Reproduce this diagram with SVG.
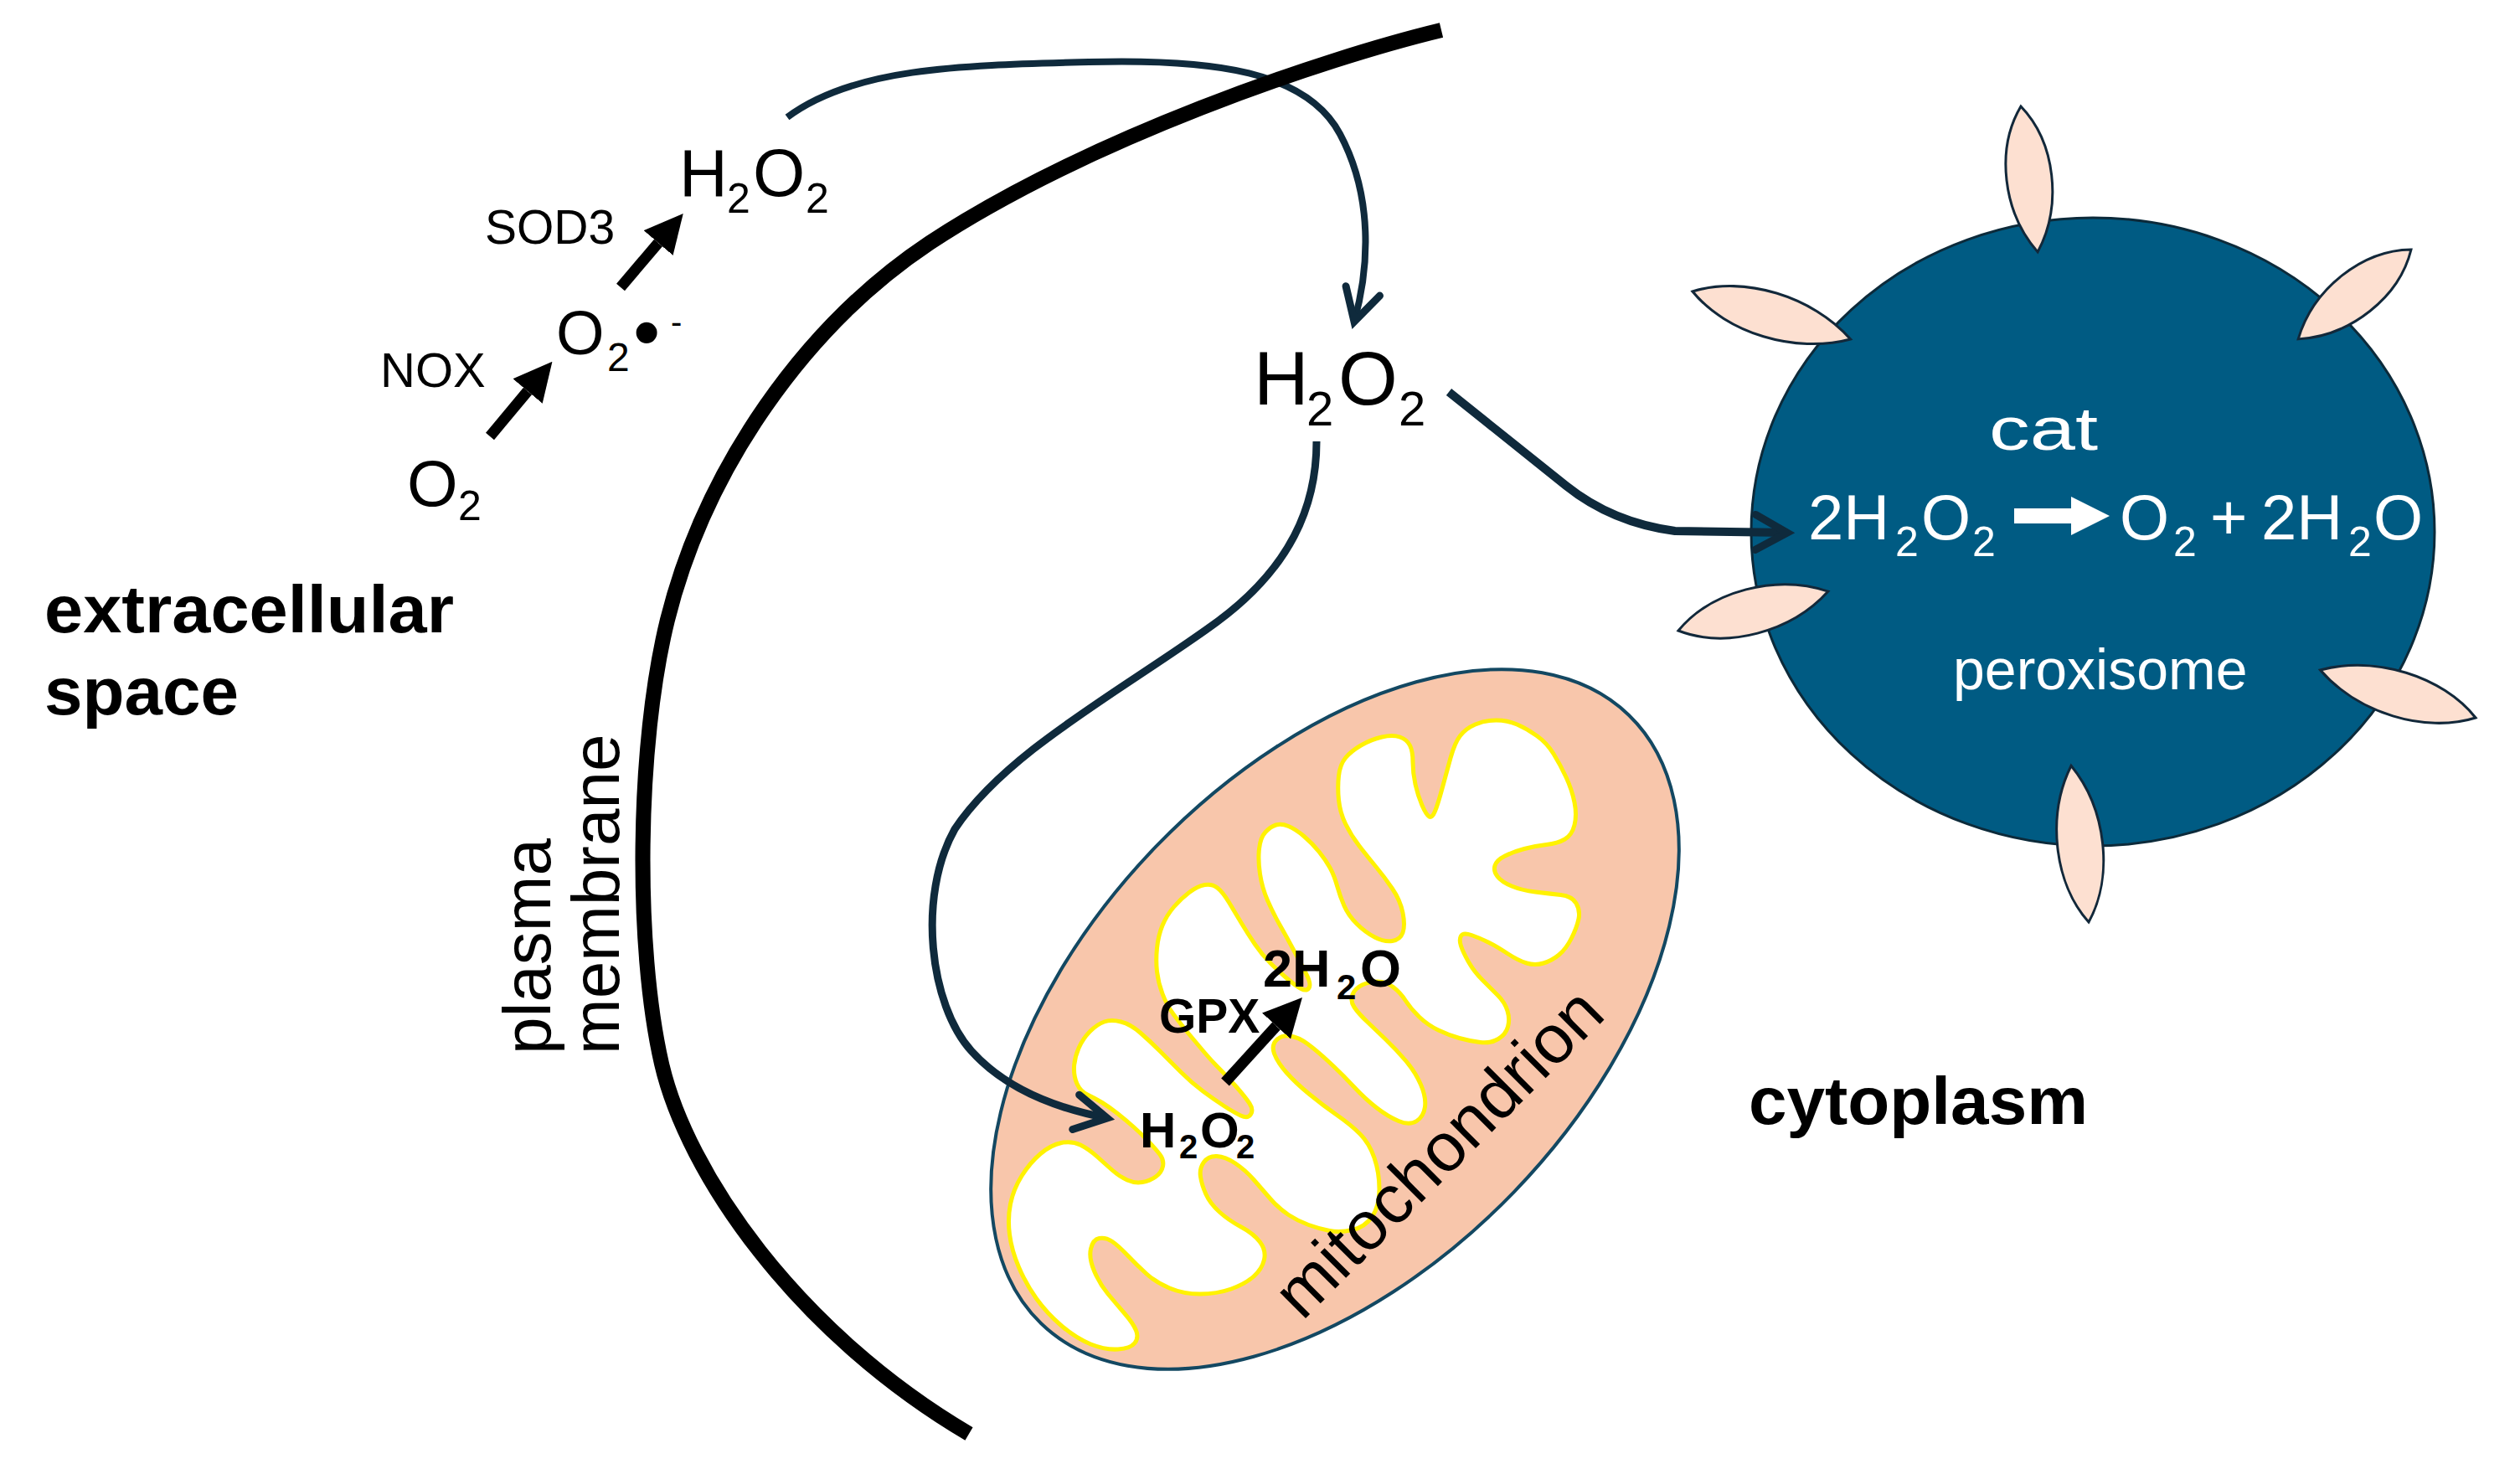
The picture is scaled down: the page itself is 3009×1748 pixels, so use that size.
<svg xmlns="http://www.w3.org/2000/svg" width="3009" height="1748" viewBox="0 0 3009 1748">
<defs>
<style>
.t{font-family:"Liberation Sans",Arial,sans-serif;fill:#000}
.b{font-family:"Liberation Sans",Arial,sans-serif;font-weight:bold;fill:#000}
.w{font-family:"Liberation Sans",Arial,sans-serif;fill:#fff}
.conn{fill:none;stroke:#0f2a3c;stroke-linecap:butt;stroke-linejoin:round}
.rx{stroke:#000;stroke-width:13;fill:none}
.petal{fill:#fde0d1;stroke:#12283a;stroke-width:3}
</style>
<marker id="open" viewBox="0 0 50 50" refX="44" refY="25" markerWidth="50" markerHeight="50" markerUnits="userSpaceOnUse" orient="auto" overflow="visible">
<path d="M6,4 L44,25 L6,46" fill="none" stroke="#0f2a3c" stroke-width="9" stroke-linejoin="miter" stroke-linecap="round"/>
</marker>
<marker id="solid" viewBox="0 0 10 10" refX="0" refY="5" markerWidth="46" markerHeight="46" markerUnits="userSpaceOnUse" orient="auto">
<path d="M0,0 L10,5 L0,10 Z" fill="#000"/>
</marker>
<marker id="solidW" viewBox="0 0 10 10" refX="0" refY="5" markerWidth="46" markerHeight="47" markerUnits="userSpaceOnUse" orient="auto">
<path d="M0,0 L10,5 L0,10 Z" fill="#fff"/>
</marker>
<path id="petal" d="M0,0 C50,-36 130,-36 185,0 C130,36 50,36 0,0 Z"/>
</defs>
<rect width="3009" height="1748" fill="#fff"/>

<g id="mitochondrion">
<ellipse cx="1594" cy="1217" rx="505" ry="297" transform="rotate(-46 1594 1217)" fill="#f8c6ab" stroke="#134862" stroke-width="4"/>
<path fill="#fff" stroke="#fff200" stroke-width="5" stroke-linejoin="round" d="M1312.5,1478.5
Q1305,1480 1302.5,1491 Q1300,1502 1306.5,1517.5 Q1313,1533 1323,1545 Q1333,1557 1343,1568.5 Q1353,1580 1356.5,1588.5 Q1360,1597 1355,1603.5 Q1350,1610 1335,1611 Q1320,1612 1302.5,1605 Q1285,1598 1267.5,1583 Q1250,1568 1237.5,1550.5 Q1225,1533 1216.5,1513 Q1208,1493 1205.5,1474 Q1203,1455 1206.5,1437.5 Q1210,1420 1220,1404 Q1230,1388 1242.5,1377.5 Q1255,1367 1267.5,1364.5 Q1280,1362 1290,1367 Q1300,1372 1310,1381 Q1320,1390 1328.5,1397.5 Q1337,1405 1346,1409 Q1355,1413 1364,1411.5 Q1373,1410 1380,1405 Q1387,1400 1388.5,1392.5 Q1390,1385 1385,1378.5 Q1380,1372 1371,1362.5 Q1362,1353 1353.5,1345.5 Q1345,1338 1335,1330 Q1325,1322 1316,1316.5 Q1307,1311 1298.5,1307 Q1290,1303 1286,1294 Q1282,1285 1282.5,1274 Q1283,1263 1288,1251.5 Q1293,1240 1301.5,1231.5 Q1310,1223 1318.5,1220 Q1327,1217 1338.5,1220 Q1350,1223 1361.5,1233 Q1373,1243 1385,1255 Q1397,1267 1410,1280 Q1423,1293 1436.5,1303 Q1450,1313 1461.5,1320.5 Q1473,1328 1481.5,1332 Q1490,1336 1493.5,1330.5 Q1497,1325 1492,1317.5 Q1487,1310 1477,1298.5 Q1467,1287 1457,1277 Q1447,1267 1438.5,1257 Q1430,1247 1420,1235 Q1410,1223 1401.5,1211.5 Q1393,1200 1388,1186.5 Q1383,1173 1381.5,1160 Q1380,1147 1381.5,1132 Q1383,1117 1388,1105 Q1393,1093 1401.5,1083 Q1410,1073 1420,1065.5 Q1430,1058 1438.5,1056.5 Q1447,1055 1453.5,1060 Q1460,1065 1467.5,1077.5 Q1475,1090 1482.5,1102.5 Q1490,1115 1498.5,1127.5 Q1507,1140 1517,1150 Q1527,1160 1537,1168.5 Q1547,1177 1553.5,1180.5 Q1560,1184 1563,1179.5 Q1566,1175 1559.5,1162.5 Q1553,1150 1545,1135 Q1537,1120 1528.5,1105 Q1520,1090 1513.5,1075 Q1507,1060 1504.5,1043.5 Q1502,1027 1503.5,1013.5 Q1505,1000 1511,993.5 Q1517,987 1523.5,985 Q1530,983 1538.5,986.5 Q1547,990 1557,998.5 Q1567,1007 1575,1017 Q1583,1027 1588,1036 Q1593,1045 1596.5,1057.5 Q1600,1070 1605,1081.5 Q1610,1093 1620,1103 Q1630,1113 1641.5,1119 Q1653,1125 1662.5,1123.5 Q1672,1122 1675,1113.5 Q1678,1105 1675,1090 Q1672,1075 1662.5,1061 Q1653,1047 1643,1035 Q1633,1023 1623,1010 Q1613,997 1606.5,983.5 Q1600,970 1598.5,955 Q1597,940 1598.5,926.5 Q1600,913 1606.5,905 Q1613,897 1625,890 Q1637,883 1650,880 Q1663,877 1671.5,880 Q1680,883 1683.5,890 Q1687,897 1687,910 Q1687,923 1690,936.5 Q1693,950 1698,961.5 Q1703,973 1706.5,975 Q1710,977 1713.5,968.5 Q1717,960 1722,941.5 Q1727,923 1732,905 Q1737,887 1743.5,878.5 Q1750,870 1761.5,865 Q1773,860 1786.5,860 Q1800,860 1811.5,865 Q1823,870 1835,878.5 Q1847,887 1855,900 Q1863,913 1870,928 Q1877,943 1880,958 Q1883,973 1880,985 Q1877,997 1868.5,1002 Q1860,1007 1846.5,1008.5 Q1833,1010 1820,1013.5 Q1807,1017 1797,1022 Q1787,1027 1785,1033.5 Q1783,1040 1788,1046.5 Q1793,1053 1805,1058 Q1817,1063 1833.5,1065 Q1850,1067 1863.5,1068.5 Q1877,1070 1882,1078.5 Q1887,1087 1885,1097 Q1883,1107 1876.5,1120 Q1870,1133 1861.5,1140 Q1853,1147 1843,1150 Q1833,1153 1823,1150 Q1813,1147 1800,1138.5 Q1787,1130 1777,1125 Q1767,1120 1757,1116.5 Q1747,1113 1744.5,1117.5 Q1742,1122 1744.5,1129.5 Q1747,1137 1753.5,1148.5 Q1760,1160 1770,1170 Q1780,1180 1788.5,1188.5 Q1797,1197 1800,1207 Q1803,1217 1800.5,1226 Q1798,1235 1789,1240.5 Q1780,1246 1767.5,1244.5 Q1755,1243 1742.5,1239.5 Q1730,1236 1717.5,1230 Q1705,1224 1695,1214.5 Q1685,1205 1678.5,1195 Q1672,1185 1663.5,1178.5 Q1655,1172 1645,1172 Q1635,1172 1626.5,1176 Q1618,1180 1615,1187.5 Q1612,1195 1617,1202.5 Q1622,1210 1632,1219.5 Q1642,1229 1654.5,1241 Q1667,1253 1678.5,1266.5 Q1690,1280 1696.5,1295 Q1703,1310 1701.5,1321.5 Q1700,1333 1691.5,1338.5 Q1683,1344 1670,1338.5 Q1657,1333 1643.5,1322.5 Q1630,1312 1616.5,1297.5 Q1603,1283 1588,1269 Q1573,1255 1561.5,1246.5 Q1550,1238 1540,1237 Q1530,1236 1524,1242 Q1518,1248 1521.5,1258 Q1525,1268 1536,1280.5 Q1547,1293 1563.5,1306.5 Q1580,1320 1596.5,1331.5 Q1613,1343 1624,1354 Q1635,1365 1641,1382.5 Q1647,1400 1647,1420 Q1647,1440 1638.5,1452.5 Q1630,1465 1615,1468.5 Q1600,1472 1587.5,1469.5 Q1575,1467 1562.5,1462.5 Q1550,1458 1538.5,1450.5 Q1527,1443 1517,1431.5 Q1507,1420 1497,1408.5 Q1487,1397 1475,1389 Q1463,1381 1453,1380.5 Q1443,1380 1437.5,1387.5 Q1432,1395 1433.5,1405 Q1435,1415 1440,1426 Q1445,1437 1456,1447 Q1467,1457 1482,1465 Q1497,1473 1504.5,1483 Q1512,1493 1509.5,1504 Q1507,1515 1497,1524 Q1487,1533 1470,1539 Q1453,1545 1433,1545 Q1413,1545 1396.5,1538 Q1380,1531 1368.5,1520.5 Q1357,1510 1346,1498.5 Q1335,1487 1327.5,1482 Q1320,1477 1312.5,1478.5 Z"/>
<text class="t" font-size="82" transform="translate(1555,1578) rotate(-45)">mitochondrion</text>
</g>

<g id="mito-h2o2">
<text class="b" font-size="60"><tspan x="1361" y="1370">H</tspan><tspan x="1408" y="1383" font-size="40">2</tspan><tspan x="1433" y="1370">O</tspan><tspan x="1476" y="1383" font-size="40">2</tspan></text>
</g>
<g id="mito-2h2o">
<text class="b" font-size="63"><tspan x="1508" y="1178">2H</tspan><tspan x="1596" y="1193" font-size="42">2</tspan><tspan x="1624" y="1178">O</tspan></text>
</g>
<g id="gpx-label">
<text class="b" x="1384" y="1233" font-size="57">GPX</text>
</g>

<g id="peroxisome">
<ellipse cx="2499" cy="635" rx="408" ry="375" fill="#005b83" stroke="#0c2a3a" stroke-width="3"/>
<use href="#petal" class="petal" transform="translate(2413,127) rotate(83.4) scale(0.946,1)"/>
<use href="#petal" class="petal" transform="translate(2021,348) rotate(16.8) scale(1.065,1)"/>
<use href="#petal" class="petal" transform="translate(2879,298) rotate(141.6) scale(0.93,1)"/>
<use href="#petal" class="petal" transform="translate(2004,753) rotate(-14.7) scale(1.0,1)"/>
<use href="#petal" class="petal" transform="translate(2956,857) rotate(-162.9) scale(1.049,1)"/>
<use href="#petal" class="petal" transform="translate(2494,1101) rotate(-96.4) scale(1.016,1)"/>
<text class="w" x="2375" y="537" font-size="72" textLength="130" lengthAdjust="spacingAndGlyphs">cat</text>
<text class="w" font-size="76"><tspan x="2159" y="644">2H</tspan><tspan x="2263" y="664" font-size="50">2</tspan><tspan x="2294" y="644">O</tspan><tspan x="2355" y="664" font-size="50">2</tspan></text>
<text class="w" font-size="76"><tspan x="2531" y="644">O</tspan><tspan x="2595" y="664" font-size="50">2</tspan><tspan x="2639" y="644">+</tspan><tspan x="2700" y="644">2H</tspan><tspan x="2804" y="664" font-size="50">2</tspan><tspan x="2834" y="644">O</tspan></text>
<text class="w" x="2332" y="823" font-size="68">peroxisome</text>
</g>

<g id="o2">
<text class="t" font-size="78"><tspan x="486" y="604">O</tspan><tspan x="547" y="621" font-size="50">2</tspan></text>
</g>
<g id="superoxide">
<text class="t" font-size="74"><tspan x="664" y="423">O</tspan><tspan x="725" y="443" font-size="48">2</tspan><tspan x="756" y="428" font-size="92">•</tspan><tspan x="801" y="398" font-size="40">-</tspan></text>
</g>
<g id="h2o2-extracellular">
<text class="t" font-size="80"><tspan x="811" y="234">H</tspan><tspan x="868" y="254" font-size="50">2</tspan><tspan x="899" y="234">O</tspan><tspan x="962" y="254" font-size="50">2</tspan></text>
</g>
<g id="h2o2-cytoplasm">
<text class="t" font-size="91"><tspan x="1497" y="483">H</tspan><tspan x="1560" y="508" font-size="58">2</tspan><tspan x="1598" y="483">O</tspan><tspan x="1670" y="508" font-size="58">2</tspan></text>
</g>
<g id="enzyme-labels">
<text class="t" x="454" y="462" font-size="58">NOX</text>
<text class="t" x="579" y="291" font-size="57">SOD3</text>
</g>
<g id="region-labels">
<text class="b" x="53" y="755" font-size="80" textLength="489" lengthAdjust="spacingAndGlyphs">extracellular</text>
<text class="b" x="53" y="853" font-size="80" textLength="232" lengthAdjust="spacingAndGlyphs">space</text>
<text class="b" x="2088" y="1342" font-size="80" textLength="405" lengthAdjust="spacingAndGlyphs">cytoplasm</text>
</g>

<g id="connectors">
<path class="conn" stroke-width="8" d="M940,140 C1020,80 1150,78 1300,74 C1450,70 1560,85 1600,160 C1640,235 1635,320 1617,384" marker-end="url(#open)"/>
<path class="conn" stroke-width="10" d="M1730,468 L1870,580 Q1925,624 2000,634 L2134,636" marker-end="url(#open)"/>
<path class="conn" stroke-width="9" d="M1572,527 C1572,600 1545,680 1440,752 C1330,830 1200,900 1140,990 C1095,1070 1110,1200 1160,1255 C1205,1305 1270,1325 1322,1335" marker-end="url(#open)"/>
<line class="rx" x1="585" y1="521" x2="630" y2="467" marker-end="url(#solid)"/>
<line class="rx" x1="741" y1="343" x2="786" y2="290" marker-end="url(#solid)"/>
<line class="rx" x1="1463" y1="1292" x2="1524" y2="1225" marker-end="url(#solid)"/>
<line x1="2405" y1="616" x2="2473" y2="616" stroke="#fff" stroke-width="18" marker-end="url(#solidW)"/>
</g>

<g id="plasma-membrane">
<path d="M1721,36 C1580,70 1300,165 1110,290 C960,390 842,560 797,740 C760,890 758,1130 790,1270 C820,1400 950,1590 1157,1712" fill="none" stroke="#000" stroke-width="18"/>
<text class="t" font-size="80" transform="translate(657,1259) rotate(-90)">plasma</text>
<text class="t" font-size="80" transform="translate(739,1259) rotate(-90)">membrane</text>
</g>
</svg>
